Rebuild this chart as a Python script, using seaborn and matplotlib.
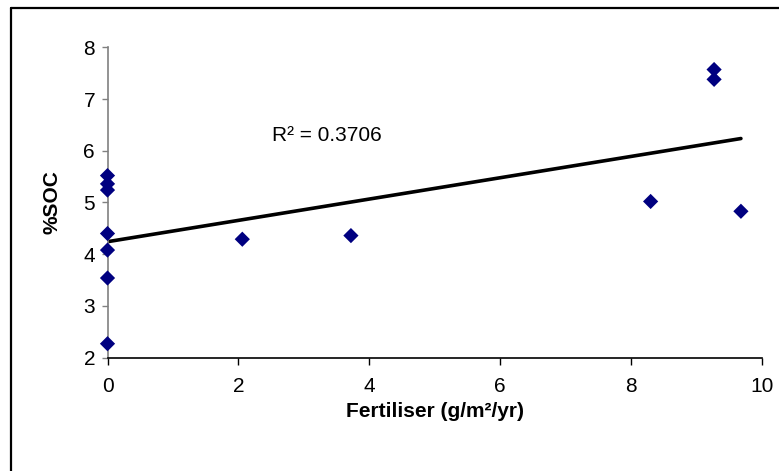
import matplotlib
matplotlib.use("Agg")
import matplotlib.pyplot as plt
import numpy as np
import pandas as pd
import seaborn as sns
from matplotlib.lines import Line2D

# 数据
fertiliser = [0, 0, 0, 0, 0, 0, 0, 2.06, 3.72, 8.30, 9.27, 9.27, 9.68]
soc = [5.52, 5.36, 5.24, 4.40, 4.08, 3.54, 2.27, 4.29, 4.36, 5.02, 7.57, 7.38, 4.83]
r2_label = "R² = 0.3706"
x_ticks = [0, 2, 4, 6, 8, 10]
y_ticks = [2, 3, 4, 5, 6, 7, 8]

df = pd.DataFrame({"fertiliser": fertiliser, "soc": soc})

sns.set_theme(style="white")
plt.rcParams["font.family"] = ["Liberation Sans", "DejaVu Sans"]
plt.rcParams["text.color"] = "black"
plt.rcParams["axes.labelcolor"] = "black"
plt.rcParams["xtick.labelcolor"] = "black"
plt.rcParams["ytick.labelcolor"] = "black"

fig = plt.figure(figsize=(7.79, 4.71), dpi=100)
ax = fig.add_axes([0.138, 0.2406, 0.840, 0.659])

sns.regplot(
    data=df,
    x="fertiliser",
    y="soc",
    ci=None,
    marker="D",
    scatter_kws={"s": 60, "color": "#000080", "edgecolor": "none",
                 "alpha": 1, "clip_on": False, "zorder": 3},
    line_kws={"color": "black", "lw": 2.6, "zorder": 2},
    ax=ax,
)

ax.set_xlim(0, 10)
ax.set_ylim(2, 8)
ax.set_xticks(x_ticks)
ax.set_yticks(y_ticks)
ax.set_xlabel("Fertiliser (g/m²/yr)", fontsize=15, fontweight="bold", labelpad=4)
ax.set_ylabel("%SOC", fontsize=15, fontweight="bold", labelpad=16)

sns.despine(ax=ax)
ax.spines["left"].set_color("#808080")
ax.spines["left"].set_linewidth(1.2)
ax.spines["bottom"].set_color("black")
ax.spines["bottom"].set_linewidth(1.2)
ax.tick_params(axis="y", direction="out", length=4, width=1, color="#808080",
               labelsize=15, pad=5, left=True)
ax.tick_params(axis="x", direction="out", length=5, width=1, color="black",
               labelsize=15, pad=9, bottom=True)

ax.text(2.52, 6.3, r2_label, fontsize=15, ha="left", va="center")

# 图表外框
fig.add_artist(Line2D([11 / 779, 11 / 779], [0, 1 - 8 / 471], color="black",
                      lw=1.6, transform=fig.transFigure))
fig.add_artist(Line2D([11 / 779, 1], [1 - 8 / 471, 1 - 8 / 471], color="black",
                      lw=1.6, transform=fig.transFigure))

fig.savefig("out.png", dpi=100, facecolor="white")
